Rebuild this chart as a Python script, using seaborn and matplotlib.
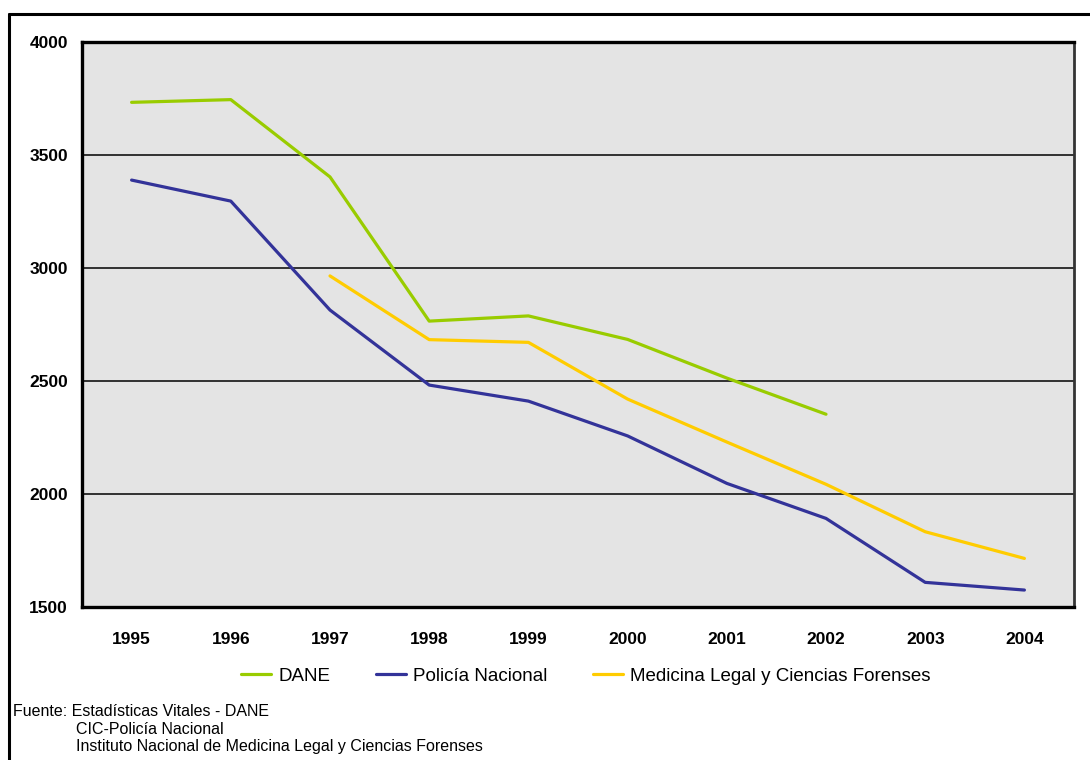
import numpy as np
import pandas as pd
import matplotlib
matplotlib.use("Agg")
import matplotlib.pyplot as plt
from matplotlib.lines import Line2D
import seaborn as sns

years = ["1995", "1996", "1997", "1998", "1999", "2000", "2001", "2002", "2003", "2004"]
dane = [3733, 3745, 3403, 2765, 2788, 2684, 2513, 2353, np.nan, np.nan]
policia = [3389, 3296, 2814, 2482, 2411, 2257, 2047, 1892, 1609, 1575]
medicina = [np.nan, np.nan, 2965, 2683, 2671, 2420, 2230, 2043, 1833, 1715]
series_names = ["DANE", "Policía Nacional", "Medicina Legal y Ciencias Forenses"]
colors = ["#99CC00", "#333399", "#FFCC00"]
yticks = [1500, 2000, 2500, 3000, 3500, 4000]
notes = ["Fuente: Estadísticas Vitales - DANE",
         "CIC-Policía Nacional",
         "Instituto Nacional de Medicina Legal y Ciencias Forenses"]

rows = []
for name, vals in zip(series_names, [dane, policia, medicina]):
    for i, v in enumerate(vals):
        if not np.isnan(v):
            rows.append({"pos": i, "value": v, "serie": name})
df = pd.DataFrame(rows)

sns.set_style("white")
plt.rcParams["font.family"] = ["Liberation Sans", "DejaVu Sans"]
plt.rcParams["text.color"] = "black"
plt.rcParams["xtick.color"] = "black"
plt.rcParams["ytick.color"] = "black"
plt.rcParams["axes.labelcolor"] = "black"

W, H = 1090, 760
fig = plt.figure(figsize=(W / 100, H / 100), dpi=100)
L, R, T, B = 82, 1074, 42, 607
ax = fig.add_axes([L / W, 1 - B / H, (R - L) / W, (B - T) / H])
ax.set_facecolor("#E4E4E4")

sns.lineplot(data=df, x="pos", y="value", hue="serie", hue_order=series_names,
             palette=colors, linewidth=2.3, ax=ax, legend=False, sort=True)

ax.set_xlim(-0.5, len(years) - 0.5)
ax.set_ylim(yticks[0], yticks[-1])
ax.set_yticks(yticks)
ax.set_yticklabels([str(t) for t in yticks], fontsize=12.5, fontweight="bold")
ax.set_xticks(range(len(years)))
ax.set_xticklabels(years, fontsize=12.5, fontweight="bold")
ax.set_xticks(np.arange(-0.5, len(years)), minor=True)
ax.tick_params(axis="x", which="major", length=0, pad=18)
ax.tick_params(axis="x", which="minor", length=5, width=1.5, direction="out", color="black")
ax.tick_params(axis="y", which="major", length=5, width=1.5, direction="out", color="black", pad=5)
ax.set_xlabel("")
ax.set_ylabel("")
ax.grid(False)
for t in yticks[1:-1]:
    ax.axhline(t, color="black", linewidth=1.1, zorder=1)

for s in ["left", "bottom", "top"]:
    ax.spines[s].set_visible(True)
    ax.spines[s].set_color("black")
    ax.spines[s].set_linewidth(2.4)
ax.spines["right"].set_visible(True)
ax.spines["right"].set_color("#333333")
ax.spines["right"].set_linewidth(2)

handles = [Line2D([0], [0], color=c, linewidth=2.3) for c in colors]
fig.legend(handles, series_names, loc="center", bbox_to_anchor=(586 / W, 1 - 676 / H),
           ncol=3, frameon=False, fontsize=13.5, handlelength=1.6, handletextpad=0.4,
           columnspacing=2.4, labelcolor="black")

fig.text(13 / W, 1 - 712 / H, notes[0], fontsize=11.5, va="center", ha="left", color="black")
fig.text(76 / W, 1 - 729 / H, notes[1], fontsize=11.5, va="center", ha="left", color="black")
fig.text(76 / W, 1 - 746 / H, notes[2], fontsize=11.5, va="center", ha="left", color="black")

fig.add_artist(Line2D([9 / W, 1.0], [1 - 14 / H, 1 - 14 / H], color="black", linewidth=2.2,
                      transform=fig.transFigure))
fig.add_artist(Line2D([9 / W, 9 / W], [1 - 14 / H, 0], color="black", linewidth=2.2,
                      transform=fig.transFigure))

fig.savefig("out.png", dpi=100)
